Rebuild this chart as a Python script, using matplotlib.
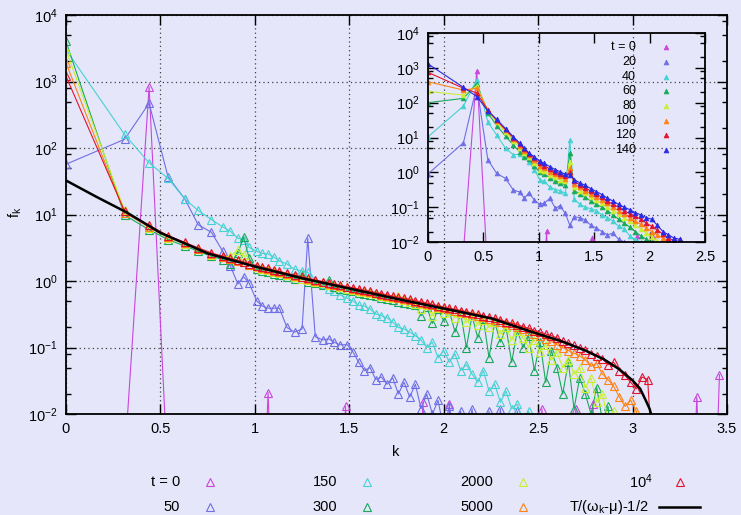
import matplotlib
matplotlib.use("Agg")
import matplotlib.pyplot as plt
from matplotlib.lines import Line2D
from matplotlib.ticker import LogLocator, MultipleLocator, NullFormatter, FuncFormatter

plt.rcParams['font.family'] = ['Liberation Sans', 'DejaVu Sans']
plt.rcParams['mathtext.fontset'] = 'custom'
plt.rcParams['mathtext.rm'] = 'Liberation Sans'
plt.rcParams['mathtext.it'] = 'Liberation Sans:italic'
plt.rcParams['font.size'] = 10.5

# ---------------- main panel data ----------------
k = [0, 0.31, 0.44, 0.54, 0.63, 0.70, 0.77, 0.83, 0.87, 0.91,
     0.94, 0.97, 1.01, 1.04, 1.07, 1.10, 1.13, 1.17, 1.21, 1.25,
     1.28, 1.32, 1.36, 1.39, 1.42, 1.45, 1.49, 1.52, 1.55, 1.58,
     1.61, 1.64, 1.67, 1.70, 1.73, 1.76, 1.79, 1.82, 1.85, 1.88,
     1.91, 1.94, 1.97, 2.00, 2.03, 2.06, 2.09, 2.12, 2.15, 2.18,
     2.21, 2.24, 2.27, 2.30, 2.33, 2.36, 2.39, 2.42, 2.45, 2.48,
     2.51, 2.54, 2.57, 2.60, 2.63, 2.66, 2.69, 2.72, 2.75, 2.78,
     2.81, 2.84, 2.87, 2.90, 2.93, 2.96, 2.99, 3.02, 3.05, 3.08,
     3.11]

f_50 = [57, 135, 470, 37, 17, 7, 5.4, 2.8, 1.7, 0.9,
        1.16, 0.93, 0.5, 0.42, 0.39, 0.39, 0.39, 0.2, 0.17, 0.19,
        4.4, 0.145, 0.13, 0.135, 0.12, 0.11, 0.11, 0.085, 0.06, 0.045,
        0.05, 0.033, 0.036, 0.028, 0.035, 0.02, 0.03, 0.018, 0.028, 0.012,
        0.02, 0.01, 0.016, 0.006, 0.013, 0.004, 0.011, 0.003, 0.012, 0.002,
        0.001, 0.011, 0.001, 0.012, 0.001, 0.001, 0.011, 0.001, 0.001, 0.001,
        0.001, 0.001, 0.001, 0.001, 0.001, 0.001, 0.001, 0.001, 0.001, 0.001,
        0.001, 0.001, 0.001, 0.001, 0.001, 0.001, 0.001, 0.001, 0.001, 0.001,
        0.001]

f_150 = [3000, 160, 60, 35, 17, 11.5, 8.4, 6.5, 5.6, 4.4,
         4.2, 3.2, 2.8, 2.6, 2.55, 2.3, 2.0, 1.8, 1.5, 1.42,
         1.35, 1.05, 0.9, 0.75, 0.7, 0.62, 0.55, 0.5, 0.43, 0.42,
         0.38, 0.32, 0.3, 0.28, 0.24, 0.2, 0.19, 0.17, 0.15, 0.13,
         0.1, 0.12, 0.07, 0.09, 0.06, 0.08, 0.045, 0.055, 0.04, 0.03,
         0.045, 0.022, 0.028, 0.015, 0.022, 0.012, 0.014, 0.008, 0.011, 0.003,
         0.001, 0.001, 0.001, 0.001, 0.001, 0.001, 0.001, 0.001, 0.001, 0.001,
         0.001, 0.001, 0.001, 0.001, 0.001, 0.001, 0.001, 0.001, 0.001, 0.001,
         0.001]

f_300 = [4000, 9.8, 5.9, 4.2, 3.35, 2.8, 2.35, 2.1, 1.8, 2.6,
         4.6, 2.2, 1.5, 1.42, 1.35, 1.28, 1.22, 1.15, 1.08, 1.22,
         0.97, 0.92, 0.87, 1.05, 0.8, 0.76, 0.72, 0.7, 0.67, 0.64,
         0.61, 0.59, 0.56, 0.54, 0.51, 0.49, 0.47, 0.45, 0.43, 0.3,
         0.41, 0.23, 0.38, 0.25, 0.35, 0.17, 0.33, 0.1, 0.3, 0.14,
         0.27, 0.07, 0.24, 0.12, 0.2, 0.06, 0.18, 0.1, 0.15, 0.045,
         0.12, 0.03, 0.09, 0.05, 0.02, 0.06, 0.012, 0.035, 0.02, 0.01,
         0.025, 0.008, 0.013, 0.002, 0.001, 0.001, 0.001, 0.001, 0.001, 0.001,
         0.001]

f_2000 = [2950, 11.5, 6.3, 4.5, 3.6, 3.0, 2.5, 2.3, 2.4, 2.9,
          2.5, 1.75, 1.6, 1.53, 1.45, 1.38, 1.32, 1.24, 1.16, 1.09,
          1.04, 0.98, 0.93, 0.88, 0.86, 0.81, 0.77, 0.74, 0.71, 0.68,
          0.65, 0.63, 0.6, 0.57, 0.55, 0.6, 0.52, 0.49, 0.45, 0.38,
          0.43, 0.3, 0.39, 0.33, 0.36, 0.28, 0.33, 0.24, 0.3, 0.22,
          0.26, 0.2, 0.24, 0.16, 0.2, 0.13, 0.18, 0.14, 0.1, 0.13,
          0.085, 0.11, 0.065, 0.085, 0.05, 0.065, 0.04, 0.05, 0.025, 0.035,
          0.015, 0.02, 0.008, 0.011, 0.003, 0.001, 0.001, 0.001, 0.001, 0.001,
          0.001]

f_5000 = [1900, 10.6, 6.5, 4.6, 3.7, 3.05, 2.55, 2.3, 2.15, 2.0,
          1.9, 1.75, 1.66, 1.58, 1.5, 1.42, 1.36, 1.27, 1.2, 1.13,
          1.07, 1.01, 0.95, 0.91, 0.88, 0.84, 0.8, 0.77, 0.74, 0.71,
          0.68, 0.65, 0.625, 0.6, 0.575, 0.55, 0.53, 0.51, 0.49, 0.47,
          0.45, 0.43, 0.41, 0.39, 0.375, 0.36, 0.345, 0.33, 0.315, 0.3,
          0.285, 0.27, 0.26, 0.245, 0.23, 0.215, 0.2, 0.19, 0.175, 0.16,
          0.15, 0.135, 0.125, 0.11, 0.1, 0.09, 0.082, 0.075, 0.065, 0.052,
          0.058, 0.04, 0.033, 0.026, 0.018, 0.013, 0.016, 0.011, 0.004, 0.001,
          0.001]

f_1e4 = [1200, 11.2, 6.9, 4.8, 3.8, 3.15, 2.65, 2.35, 2.2, 2.05,
         1.95, 1.8, 1.7, 1.62, 1.55, 1.46, 1.4, 1.3, 1.23, 1.16,
         1.1, 1.04, 0.98, 0.94, 0.9, 0.87, 0.82, 0.79, 0.76, 0.73,
         0.7, 0.67, 0.645, 0.62, 0.59, 0.57, 0.55, 0.53, 0.505, 0.485,
         0.465, 0.445, 0.425, 0.405, 0.39, 0.375, 0.36, 0.345, 0.33, 0.315,
         0.3, 0.285, 0.275, 0.26, 0.245, 0.23, 0.22, 0.205, 0.195, 0.18,
         0.17, 0.16, 0.15, 0.14, 0.125, 0.118, 0.108, 0.1, 0.092, 0.08,
         0.075, 0.068, 0.055, 0.06, 0.045, 0.038, 0.03, 0.024, 0.036, 0.033,
         0.0012]

# t = 0: a single peak plus a few isolated counts
k_t0 = [0.31, 0.44, 0.54, 1.04, 1.07, 1.10, 1.45, 1.48, 1.51, 1.86,
        1.89, 1.92, 2.00, 2.03, 2.06, 2.49, 2.52, 2.55, 2.67, 2.70,
        2.73, 2.76, 2.79, 2.82, 3.31, 3.34, 3.37, 3.43, 3.46]
f_t0 = [0.002, 830, 0.001, 1e-4, 0.021, 1e-4, 1e-4, 0.013, 1e-4, 1e-4,
        0.015, 1e-4, 1e-4, 0.014, 1e-4, 1e-4, 0.012, 1e-4, 1e-4, 0.012,
        1e-4, 1e-4, 0.014, 1e-4, 1e-4, 0.018, 1e-4, 1e-4, 0.039]

# theory curve T/(omega_k - mu) - 1/2
k_th = [0, 0.16, 0.32, 0.5, 0.75, 1.0, 1.25, 1.5, 1.75, 2.0, 2.25,
        2.5, 2.62, 2.75, 2.85, 2.93, 3.0, 3.04, 3.07, 3.09, 3.1]
f_th = [32.5, 18.5, 10.8, 5.3, 2.6, 1.65, 1.1, 0.77, 0.54, 0.385, 0.275,
        0.16, 0.125, 0.09, 0.066, 0.047, 0.032, 0.024, 0.016, 0.012, 0.0095]

# ---------------- inset data ----------------
ki = [0, 0.32, 0.44, 0.54, 0.62, 0.70, 0.77, 0.83, 0.87, 0.91,
      0.96, 1.01, 1.05, 1.10, 1.15, 1.19, 1.24, 1.28, 1.32, 1.37,
      1.42, 1.47, 1.52, 1.57, 1.62, 1.67, 1.72, 1.77, 1.82, 1.87,
      1.92, 1.97, 2.02, 2.07, 2.12, 2.17, 2.22, 2.27]
g_20 = [0.9, 7.1, 300, 2.3, 0.93, 0.67, 0.31, 0.27, 0.18, 0.26,
        0.16, 0.12, 0.13, 0.18, 0.093, 0.11, 0.066, 0.03, 0.053, 0.05,
        0.043, 0.03, 0.025, 0.02, 0.016, 0.018, 0.012, 0.01, 0.005, 0.003,
        0.002, 0.001, 0.001, 0.001, 0.001, 0.001, 0.001, 0.001]
g_40 = [10.5, 80, 450, 28, 11.7, 4.9, 3.2, 3.3, 3.2, 2.0,
        1.2, 0.6, 0.55, 0.38, 0.32, 0.3, 0.25, 8.5, 0.17, 0.12,
        0.1, 0.09, 0.08, 0.06, 0.05, 0.04, 0.028, 0.024, 0.015, 0.012,
        0.01, 0.006, 0.004, 0.002, 0.001, 0.001, 0.001, 0.001]
g_60 = [100, 133, 350, 50, 22, 11, 6, 3.8, 2.8, 2.4,
        1.5, 1.0, 0.9, 0.7, 0.58, 0.5, 0.43, 3.5, 0.3, 0.24,
        0.19, 0.15, 0.12, 0.1, 0.08, 0.06, 0.045, 0.035, 0.027, 0.02,
        0.015, 0.012, 0.01, 0.006, 0.004, 0.002, 0.001, 0.001]
g_80 = [210, 165, 300, 60, 27, 14, 8, 5, 3.6, 2.7,
        1.9, 1.2, 1.1, 0.85, 0.72, 0.62, 0.55, 2.0, 0.38, 0.3,
        0.25, 0.2, 0.16, 0.13, 0.1, 0.08, 0.065, 0.05, 0.04, 0.03,
        0.024, 0.018, 0.014, 0.011, 0.008, 0.005, 0.003, 0.002]
g_100 = [400, 230, 260, 62, 30, 16, 9.2, 5.8, 4.2, 3.1,
         2.2, 1.5, 1.3, 1.05, 0.88, 0.78, 0.66, 1.3, 0.46, 0.37,
         0.3, 0.24, 0.2, 0.16, 0.13, 0.1, 0.08, 0.065, 0.05, 0.04,
         0.032, 0.025, 0.02, 0.016, 0.013, 0.011, 0.009, 0.012]
g_120 = [740, 260, 190, 60, 32, 17, 10, 6.3, 4.6, 3.4,
         2.5, 1.8, 1.55, 1.25, 1.05, 0.92, 0.78, 1.0, 0.55, 0.44,
         0.36, 0.29, 0.24, 0.19, 0.15, 0.12, 0.1, 0.08, 0.065, 0.055,
         0.045, 0.035, 0.028, 0.022, 0.017, 0.013, 0.011, 0.008]
g_140 = [1300, 275, 150, 58, 33, 18, 10.5, 6.8, 4.9, 3.6,
         2.8, 2.1, 1.8, 1.45, 1.2, 1.05, 0.88, 0.85, 0.62, 0.5,
         0.42, 0.34, 0.28, 0.23, 0.18, 0.15, 0.12, 0.1, 0.085, 0.07,
         0.06, 0.05, 0.045, 0.03, 0.02, 0.016, 0.013, 0.012]

colors = {'t0': '#c846dc', '20': '#6e6ee6', '40': '#46d2d2', '60': '#18aa5a',
          '80': '#c8f032', '100': '#ff8214', '120': '#e0142d', '140': '#2a2ae6'}
main_series = [(k_t0, f_t0, colors['t0']), (k, f_50, colors['20']),
               (k, f_150, colors['40']), (k, f_300, colors['60']),
               (k, f_2000, colors['80']), (k, f_5000, colors['100']),
               (k, f_1e4, colors['120'])]
inset_series = [(k_t0, f_t0, colors['t0']), (ki, g_20, colors['20']),
                (ki, g_40, colors['40']), (ki, g_60, colors['60']),
                (ki, g_80, colors['80']), (ki, g_100, colors['100']),
                (ki, g_120, colors['120']), (ki, g_140, colors['140'])]

bg = '#e6e6fa'
W, H = 741, 515
fig = plt.figure(figsize=(W / 100, H / 100), dpi=100, facecolor=bg)


def px(x, y):
    return x / W, 1 - y / H


def style_axes(ax, xmax):
    ax.set_facecolor('none')
    ax.set_xlim(0, xmax)
    ax.set_yscale('log')
    ax.set_ylim(1e-2, 1e4)
    ax.xaxis.set_major_locator(MultipleLocator(0.5))
    ax.xaxis.set_major_formatter(FuncFormatter(lambda v, p: '%g' % v))
    ax.yaxis.set_major_locator(LogLocator(base=10, numticks=20))
    ax.yaxis.set_minor_locator(LogLocator(base=10, subs=(2, 5, 8), numticks=20))
    ax.yaxis.set_minor_formatter(NullFormatter())
    ax.tick_params(which='both', direction='in', top=True, right=True, width=1)
    ax.tick_params(which='major', length=7, pad=6)
    ax.tick_params(which='minor', length=3.5)
    for s in ax.spines.values():
        s.set_linewidth(1.3)


# main axes
ax = fig.add_axes([66 / W, 1 - 414 / H, 661 / W, 399 / H])
style_axes(ax, 3.5)
ax.grid(which='major', ls=(0, (1, 2.5)), color='#404040', lw=0.9)
ax.set_axisbelow(True)
for kk, ff, c in main_series:
    ax.plot(kk, ff, color=c, lw=0.8, marker='^', ms=6, mfc='none', mec=c, mew=0.8)
ax.plot(k_th, f_th, color='black', lw=1.8)
fig.text(*px(396, 452), 'k', ha='center', va='center')
fig.text(*px(15, 212), r'f$_\mathregular{k}$', ha='center', va='center', rotation=90)

# inset axes
ax2 = fig.add_axes([428 / W, 1 - 242 / H, 277 / W, 209 / H])
style_axes(ax2, 2.5)
for kk, ff, c in inset_series:
    ax2.plot(kk, ff, color=c, lw=0.8, marker='^', ms=3.5, mfc=c, mec=c, mew=0.5)

# main legend (gnuplot style: label then sample)
main_keys = [(180, 482, 't = 0', colors['t0'], 210), (180, 507, '50', colors['20'], 210),
             (337, 482, '150', colors['40'], 367), (337, 507, '300', colors['60'], 367),
             (493, 482, '2000', colors['80'], 523), (493, 507, '5000', colors['100'], 523),
             (653, 482, r'$\mathregular{10^4}$', colors['120'], 680)]
for x, y, lab, c, mx in main_keys:
    fig.text(*px(x, y), lab, ha='right', va='center')
    fig.add_artist(Line2D([mx / W], [1 - y / H], marker='^', ms=6, mfc='none', mec=c,
                          mew=0.8, transform=fig.transFigure))
fig.text(*px(649, 507), r'T/($\mathregular{\omega_k}$-$\mathregular{\mu}$)-1/2', ha='right', va='center')
fig.add_artist(Line2D([659 / W, 700 / W], [1 - 507 / H] * 2, color='black', lw=1.8,
                      transform=fig.transFigure))

# inset legend
inset_labels = ['t = 0', '20', '40', '60', '80', '100', '120', '140']
for i, lab in enumerate(inset_labels):
    y = 47.3 + i * 14.7
    c = colors[list(colors)[i]]
    fig.text(*px(636, y), lab, ha='right', va='center', fontsize=9)
    fig.add_artist(Line2D([666 / W], [1 - y / H], marker='^', ms=3.5, mfc=c, mec=c,
                          mew=0.5, transform=fig.transFigure))

fig.savefig('out.png', dpi=100, facecolor=bg)
